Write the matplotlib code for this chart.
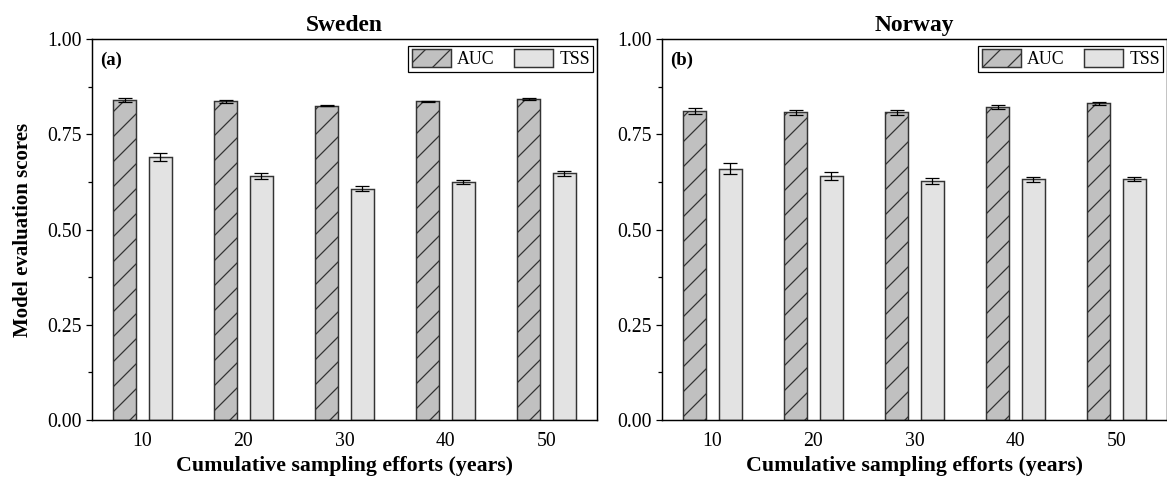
import numpy as np
import matplotlib.pyplot as plt
from matplotlib.ticker import MultipleLocator

plt.rcParams['font.family'] = 'Liberation Serif'
plt.rcParams['hatch.linewidth'] = 0.6
plt.rcParams['hatch.color'] = '#333333'

# data
years = ['10', '20', '30', '40', '50']

sweden_auc = [0.840, 0.836, 0.825, 0.836, 0.842]
sweden_auc_err = [0.006, 0.004, 0.002, 0.002, 0.002]
sweden_tss = [0.691, 0.641, 0.607, 0.625, 0.647]
sweden_tss_err = [0.011, 0.008, 0.007, 0.006, 0.007]

norway_auc = [0.811, 0.808, 0.808, 0.822, 0.831]
norway_auc_err = [0.009, 0.0065, 0.0065, 0.005, 0.004]
norway_tss = [0.660, 0.640, 0.628, 0.632, 0.633]
norway_tss_err = [0.014, 0.011, 0.008, 0.007, 0.006]

panels = [
    ('Sweden', '(a)', sweden_auc, sweden_auc_err, sweden_tss, sweden_tss_err),
    ('Norway', '(b)', norway_auc, norway_auc_err, norway_tss, norway_tss_err),
]

W, H = 1167, 481
dpi = 150
fig = plt.figure(figsize=(W / dpi, H / dpi), dpi=dpi)

ax_left = [92, 662]
ax_w = 505
ax_bottom = 61
ax_h = 381

x = np.arange(len(years))
bw = 0.227
off = 0.178

for i, (title, tag, auc, auc_err, tss, tss_err) in enumerate(panels):
    ax = fig.add_axes([ax_left[i] / W, ax_bottom / H, ax_w / W, ax_h / H])

    ax.bar(x - off, auc, bw, color='#c0c0c0', edgecolor='#333333',
           linewidth=0.7, hatch='//', label='AUC', zorder=2)
    ax.bar(x + off, tss, bw, color='#e3e3e3', edgecolor='#333333',
           linewidth=0.7, label='TSS', zorder=2)
    ax.errorbar(x - off, auc, yerr=auc_err, fmt='none', ecolor='black',
                elinewidth=0.6, capsize=3.4, capthick=0.6, zorder=3)
    ax.errorbar(x + off, tss, yerr=tss_err, fmt='none', ecolor='black',
                elinewidth=0.6, capsize=3.4, capthick=0.6, zorder=3)

    ax.set_xlim(-0.5, 4.5)
    ax.set_ylim(0, 1)
    ax.set_xticks(x)
    ax.set_xticklabels(years)
    ax.yaxis.set_major_locator(MultipleLocator(0.25))
    ax.yaxis.set_minor_locator(MultipleLocator(0.125))
    ax.yaxis.set_major_formatter(plt.FormatStrFormatter('%.2f'))
    ax.tick_params(axis='x', length=0, pad=6, labelsize=9.5)
    ax.tick_params(axis='y', which='major', length=3, width=0.6,
                   direction='out', labelsize=9.5, pad=2)
    ax.tick_params(axis='y', which='minor', length=1.8, width=0.6,
                   direction='out')
    for sp in ax.spines.values():
        sp.set_linewidth(0.7)

    ax.set_title(title, fontsize=11.3, fontweight='bold', pad=4)
    ax.set_xlabel('Cumulative sampling efforts (years)', fontsize=10.5,
                  fontweight='bold', labelpad=2)
    if i == 0:
        ax.set_ylabel('Model evaluation scores', fontsize=10,
                      fontweight='bold', labelpad=7)

    ax.text(0.016, 0.945, tag, transform=ax.transAxes, fontsize=9,
            fontweight='bold', ha='left', va='center')

    leg = ax.legend(loc='upper right', bbox_to_anchor=(0.993, 0.982),
                    ncol=2, fontsize=8.5, frameon=True, fancybox=False,
                    edgecolor='black', framealpha=1, borderaxespad=0,
                    handlelength=2.2, handleheight=1.15, handletextpad=0.35,
                    columnspacing=1.1, borderpad=0.2)
    leg.get_frame().set_linewidth(0.6)

fig.savefig('out.png', dpi=dpi)
